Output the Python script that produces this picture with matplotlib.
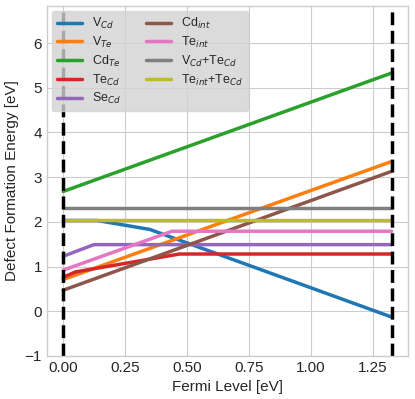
import matplotlib
matplotlib.use("Agg")
import matplotlib.pyplot as plt

# fermi level breakpoints (eV) and formation energies (eV)
band_gap = 1.327

v_cd_x = [0.0, 0.137, 0.35, band_gap]
v_cd_y = [2.03, 2.03, 1.83, -0.13]

v_te_x = [0.0, band_gap]
v_te_y = [0.71, 3.35]

cd_te_x = [0.0, band_gap]
cd_te_y = [2.68, 5.33]

te_cd_x = [0.0, 0.05, 0.47, band_gap]
te_cd_y = [0.76, 0.88, 1.28, 1.28]

se_cd_x = [0.0, 0.124, band_gap]
se_cd_y = [1.23, 1.49, 1.49]

cd_int_x = [0.0, band_gap]
cd_int_y = [0.47, 3.13]

te_int_x = [0.0, 0.44, band_gap]
te_int_y = [0.92, 1.79, 1.79]

vcd_tecd_x = [0.0, band_gap]
vcd_tecd_y = [2.30, 2.30]

teint_tecd_x = [0.0, band_gap]
teint_tecd_y = [2.03, 2.03]

labels = ['V$_{Cd}$', 'V$_{Te}$', 'Cd$_{Te}$', 'Te$_{Cd}$', 'Se$_{Cd}$',
          'Cd$_{int}$', 'Te$_{int}$', 'V$_{Cd}$+Te$_{Cd}$', 'Te$_{int}$+Te$_{Cd}$']

plt.style.use('seaborn-v0_8-whitegrid')
fig = plt.figure(figsize=(4.15, 3.99), dpi=100)
ax = fig.add_axes([0.113, 0.108, 0.87, 0.877])

series = [(v_cd_x, v_cd_y), (v_te_x, v_te_y), (cd_te_x, cd_te_y),
          (te_cd_x, te_cd_y), (se_cd_x, se_cd_y), (cd_int_x, cd_int_y),
          (te_int_x, te_int_y), (vcd_tecd_x, vcd_tecd_y),
          (teint_tecd_x, teint_tecd_y)]
for (xs, ys), lab in zip(series, labels):
    ax.plot(xs, ys, lw=2.5, label=lab)

ax.axvline(0.0, color='k', ls='--', lw=2.5)
ax.axvline(band_gap, color='k', ls='--', lw=2.5)

ax.set_xlim(-0.066, band_gap + 0.066)
ax.set_ylim(-1, 6.83)
ax.set_xticks([0.0, 0.25, 0.5, 0.75, 1.0, 1.25])
ax.set_xlabel('Fermi Level [eV]', fontsize=11)
ax.set_ylabel('Defect Formation Energy [eV]', fontsize=11)
ax.tick_params(labelsize=11)
for s in ax.spines.values():
    s.set_visible(True)
    s.set_color('#cccccc')

leg = ax.legend(ncol=2, loc='upper left', frameon=True, facecolor='lightgray',
                edgecolor='lightgray', framealpha=0.8, fontsize=9,
                labelspacing=0.3, borderaxespad=0.4)

fig.savefig('out.png', dpi=100)
